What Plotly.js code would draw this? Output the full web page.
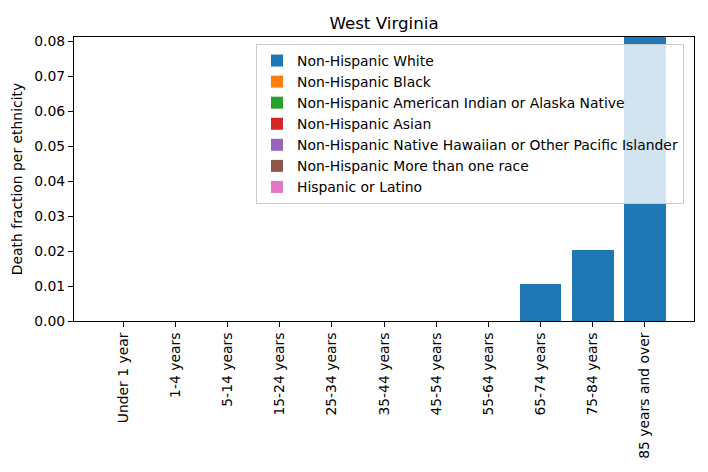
<!DOCTYPE html>
<html>
<head>
<meta charset="utf-8">
<script src="https://cdn.plot.ly/plotly-3.0.1.min.js"></script>
<style>html,body{margin:0;padding:0;background:#fff;}#chart{width:708px;height:472px;}</style>
</head>
<body>
<div id="chart"></div>
<script>
const categories = ["Under 1 year","1-4 years","5-14 years","15-24 years","25-34 years","35-44 years","45-54 years","55-64 years","65-74 years","75-84 years","85 years and over"];
const seriesNames = ["Non-Hispanic White","Non-Hispanic Black","Non-Hispanic American Indian or Alaska Native","Non-Hispanic Asian","Non-Hispanic Native Hawaiian or Other Pacific Islander","Non-Hispanic More than one race","Hispanic or Latino"];
const white    = [0,0,0,0,0,0,0,0,0.0106,0.0203,0.09];
const black    = [0,0,0,0,0,0,0,0,0,0,0];
const aian     = [0,0,0,0,0,0,0,0,0,0,0];
const asian    = [0,0,0,0,0,0,0,0,0,0,0];
const nhopi    = [0,0,0,0,0,0,0,0,0,0,0];
const multi    = [0,0,0,0,0,0,0,0,0,0,0];
const hispanic = [0,0,0,0,0,0,0,0,0,0,0];
const seriesValues = [white, black, aian, asian, nhopi, multi, hispanic];
const colors = ["#1f77b4","#ff7f0e","#2ca02c","#d62728","#9467bd","#8c564b","#e377c2"];
const yTicks = [0,0.01,0.02,0.03,0.04,0.05,0.06,0.07,0.08];

const idx = categories.map((c,i)=>i);
const traces = seriesNames.map((n,k)=>({
  type:'bar', name:n, x:idx, y:seriesValues[k],
  marker:{color:colors[k], line:{width:0}}, width:0.8
}));

const font = {family:'DejaVu Sans', size:13.9, color:'#000'};
const layout = {
  width:708, height:472,
  margin:{l:74, r:14, t:37, b:151},
  paper_bgcolor:'#fff', plot_bgcolor:'#fff',
  barmode:'stack',
  font:font,
  title:{text:'West Virginia', font:{family:'DejaVu Sans', size:16.7, color:'#000'}, x:0.5, xref:'paper', xanchor:'center', y:1-23/472, yanchor:'middle'},
  xaxis:{
    range:[-0.94,10.94], tickmode:'array', tickvals:idx, ticktext:categories, tickangle:-90,
    showgrid:false, zeroline:false, showline:true, linecolor:'#000', linewidth:1, mirror:true,
    ticks:'outside', ticklen:5, tickcolor:'#000', tickfont:font
  },
  yaxis:{
    range:[0,0.0812], tickmode:'array', tickvals:yTicks, ticktext:yTicks.map(v=>v.toFixed(2)),
    showgrid:false, zeroline:false, showline:true, linecolor:'#000', linewidth:1, mirror:true,
    ticks:'outside', ticklen:5, tickcolor:'#000', tickfont:font,
    title:{text:'Death fraction per ethnicity', font:font, standoff:8}
  },
  showlegend:true,
  legend:{
    x:(256-74)/620, xanchor:'left', y:1-(44-37)/284, yanchor:'top',
    bgcolor:'rgba(255,255,255,0.8)', bordercolor:'#cccccc', borderwidth:1,
    font:{family:'DejaVu Sans', size:13.9, color:'#000'}, traceorder:'normal'
  }
};
Plotly.newPlot('chart', traces, layout, {displayModeBar:false, staticPlot:true});
</script>
</body>
</html>
